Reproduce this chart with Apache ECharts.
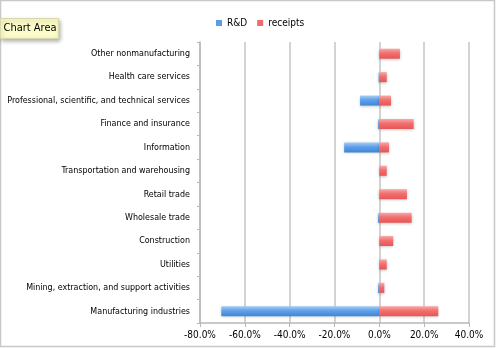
<!DOCTYPE html>
<html><head><meta charset="utf-8">
<script src="https://cdn.jsdelivr.net/npm/echarts@6/dist/echarts.min.js"></script>
<style>html,body{margin:0;padding:0;background:#fff}#c{width:496px;height:348px}</style>
</head><body><div id="c"></div>
<script>
const categories = ["Manufacturing industries","Mining, extraction, and support activities","Utilities","Construction","Wholesale trade","Retail trade","Transportation and warehousing","Information","Finance and insurance","Professional, scientific, and technical services","Health care services","Other nonmanufacturing"];
const rnd = [-70.5,-0.5,0,0,-0.5,0,0,-15.7,-0.5,-8.6,-0.3,0];
const receipts = [26.3,2.2,3.3,6.2,14.4,12.3,3.3,4.3,15.3,5.2,3.3,9.2];
const xTicks = [-80,-60,-40,-20,0,20,40];

const font = '"DejaVu Sans Condensed",sans-serif';
const chart = echarts.init(document.getElementById('c'), null, {renderer:'canvas'});
const grad = (top, mid, bot) => new echarts.graphic.LinearGradient(0,0,0,1,[{offset:0,color:top},{offset:0.45,color:mid},{offset:1,color:bot}]);
chart.setOption({
  animation:false,
  legend:{top:13, left:211, itemWidth:6, itemHeight:6, itemGap:10, icon:'rect',
    textStyle:{fontFamily:font, fontSize:10, color:'#000'},
    data:[{name:'R&D', itemStyle:{color:'#5b9ce6'}},{name:'receipts', itemStyle:{color:'#f26b6b'}}]},
  grid:{left:200, right:27, top:42, bottom:25, containLabel:false, outerBoundsMode:'none'},
  xAxis:{type:'value', min:xTicks[0], max:xTicks[xTicks.length-1], interval:20,
    axisLine:{show:true, lineStyle:{color:'#b8b8b8', width:1.5}},
    axisTick:{show:true, length:4, lineStyle:{color:'#b8b8b8'}},
    splitLine:{show:true, lineStyle:{color:'#c4c4c4', width:1.5}},
    axisLabel:{formatter:v=>v.toFixed(1)+'%', fontFamily:font, fontSize:10, color:'#000', margin:7}},
  yAxis:[
    {type:'category', data:categories, position:'left',
     axisLine:{show:false}, axisTick:{show:false},
     axisLabel:{fontFamily:font, fontSize:8.9, color:'#000', margin:10}},
    {type:'category', data:categories, position:'left',
     axisLine:{show:true, onZero:true, lineStyle:{color:'#b8b8b8', width:1.5}},
     axisTick:{show:true, length:3, lineStyle:{color:'#b8b8b8'}},
     axisLabel:{show:false}}
  ],
  series:[
    {name:'R&D', type:'bar', data:rnd, barWidth:10, barGap:'-100%',
     itemStyle:{color:grad('#a6cdf5','#5ea0e8','#3f86d9'), shadowColor:'rgba(0,0,0,0.25)', shadowBlur:3, shadowOffsetY:1}},
    {name:'receipts', type:'bar', data:receipts, barWidth:10, barGap:'-100%',
     itemStyle:{color:grad('#f9a8a8','#f26e6e','#e85656'), shadowColor:'rgba(0,0,0,0.25)', shadowBlur:3, shadowOffsetY:1}}
  ],
  graphic:[
    {type:'rect', shape:{x:0.5,y:0.5,width:494,height:346}, style:{fill:'none', stroke:'#c8c8c8', lineWidth:1.5}, silent:true},
    {type:'group', left:0, top:18, children:[
      {type:'rect', shape:{x:0,y:0,width:58,height:20}, style:{fill:'#fcfcca', stroke:'#d8d8a8', lineWidth:1, shadowColor:'rgba(0,0,0,0.3)', shadowBlur:4, shadowOffsetX:1, shadowOffsetY:2}},
      {type:'text', x:3, y:4, style:{text:'Chart Area', font:'11px '+font, fill:'#000'}}
    ]}
  ]
});
</script></body></html>
